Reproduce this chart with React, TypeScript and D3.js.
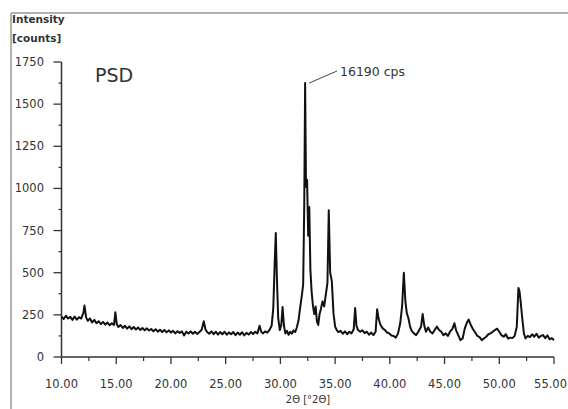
import React from "react";
import * as d3 from "d3";

// diffraction pattern (2-theta in degrees, counts)
const twoTheta = [
  10.0, 10.2, 10.4, 10.6, 10.8, 11.0, 11.2, 11.4, 11.6, 11.8,
  12.0, 12.1, 12.25, 12.4, 12.6, 12.8, 13.0, 13.2, 13.4, 13.6,
  13.8, 14.0, 14.2, 14.4, 14.6, 14.8, 14.92, 15.05, 15.2, 15.4,
  15.6, 15.8, 16.0, 16.2, 16.4, 16.6, 16.8, 17.0, 17.2, 17.4,
  17.6, 17.8, 18.0, 18.2, 18.4, 18.6, 18.8, 19.0, 19.2, 19.4,
  19.6, 19.8, 20.0, 20.2, 20.4, 20.6, 20.8, 21.0, 21.2, 21.4,
  21.6, 21.8, 22.0, 22.2, 22.4, 22.6, 22.8, 23.0, 23.15, 23.3,
  23.5, 23.7, 23.9, 24.1, 24.3, 24.5, 24.7, 24.9, 25.1, 25.3,
  25.5, 25.7, 25.9, 26.1, 26.3, 26.5, 26.7, 26.9, 27.1, 27.3,
  27.5, 27.7, 27.9, 28.1, 28.25, 28.4, 28.6, 28.8, 29.0, 29.2,
  29.35, 29.48, 29.58, 29.68, 29.8, 29.95, 30.08, 30.2, 30.32, 30.45,
  30.6, 30.75, 30.9, 31.05, 31.2, 31.35, 31.5, 31.65, 31.8, 31.95,
  32.08, 32.18, 32.26, 32.34, 32.44, 32.54, 32.64, 32.74, 32.85, 32.98,
  33.1, 33.22, 33.34, 33.46, 33.58, 33.7, 33.85, 34.0, 34.15, 34.3,
  34.42, 34.55, 34.7, 34.85, 35.0, 35.15, 35.3, 35.5, 35.7, 35.9,
  36.1, 36.3, 36.5, 36.7, 36.83, 36.95, 37.1, 37.3, 37.5, 37.7,
  37.9, 38.1, 38.3, 38.5, 38.7, 38.84, 38.98, 39.15, 39.35, 39.55,
  39.75, 39.95, 40.15, 40.35, 40.55, 40.75, 40.95, 41.12, 41.28, 41.42,
  41.55, 41.7, 41.85, 42.0, 42.2, 42.4, 42.6, 42.85, 43.0, 43.15,
  43.3, 43.5, 43.7, 43.9, 44.1, 44.3, 44.5, 44.7, 44.9, 45.1,
  45.3, 45.5, 45.7, 45.9, 46.05, 46.25, 46.45, 46.65, 46.85, 47.05,
  47.2, 47.4, 47.6, 47.8, 48.0, 48.2, 48.4, 48.6, 48.8, 49.0,
  49.2, 49.4, 49.6, 49.8, 50.0, 50.2, 50.4, 50.6, 50.8, 51.0,
  51.2, 51.4, 51.6, 51.75, 51.85, 51.95, 52.1, 52.25, 52.4, 52.6,
  52.8, 53.0, 53.2, 53.4, 53.6, 53.8, 54.0, 54.2, 54.4, 54.6,
  54.8, 55.0,
];

const counts = [
  240, 225, 245, 228, 238, 220, 240, 222, 236, 228,
  262, 305, 235, 215, 228, 205, 220, 200, 212, 195,
  208, 192, 205, 188, 200, 190, 265, 195, 178, 190,
  172, 185, 168, 182, 165, 178, 163, 175, 160, 172,
  158, 170, 157, 166, 152, 165, 150, 162, 148, 160,
  146, 158, 145, 155, 140, 153, 143, 152, 128, 150,
  140, 152, 138, 150, 137, 148, 160, 212, 165, 148,
  138, 152, 135, 150, 133, 148, 135, 150, 132, 146,
  135, 148, 130, 145, 132, 147, 128, 143, 133, 148,
  136, 150, 140, 185, 150, 140, 152, 145, 160, 185,
  290, 560, 735, 470, 230, 160, 190, 296, 190, 140,
  155, 132, 150, 138, 158, 148, 175, 215, 290, 360,
  430, 900, 1625, 1010, 1050, 720, 890, 520, 390, 300,
  255, 300, 210, 190, 255, 285, 330, 300, 370, 440,
  870, 500, 450, 260, 180, 160, 148, 155, 138, 152,
  135, 150, 140, 165, 290, 185, 160, 150, 158, 142,
  150, 132, 145, 130, 150, 283, 225, 190, 170, 160,
  145, 140, 128, 125, 115, 140, 200, 300, 500, 330,
  260, 230, 180, 155, 140, 130, 150, 180, 255, 185,
  150, 175, 150, 140, 160, 180, 160, 150, 130, 140,
  125, 150, 165, 200, 160, 130, 100, 110, 170, 205,
  222, 190, 165, 145, 125, 118, 100, 110, 120, 135,
  140, 150, 160, 168, 150, 130, 120, 135, 110, 115,
  112, 125, 180, 410, 390, 330, 230, 140, 110, 125,
  118, 135, 120, 138, 115, 125, 130, 112, 128, 105,
  112, 100,
];

const xTicks = [10, 15, 20, 25, 30, 35, 40, 45, 50, 55];
const yTicks = [0, 250, 500, 750, 1000, 1250, 1500, 1750];

const peakLabel = "16190 cps";
const peakAt = 32.26;
const sample = "PSD";

const W = 568;
const H = 409;
const font = "'DejaVu Sans', Verdana, sans-serif";

export default function App() {
  const x = d3.scaleLinear().domain([10, 55]).range([61.5, 554]);
  const y = d3.scaleLinear().domain([0, 1750]).range([357, 62]);

  const pts = twoTheta.map((t, i) => [t, counts[i]] as [number, number]);
  const line = d3
    .line<[number, number]>()
    .x((d) => x(d[0]))
    .y((d) => y(d[1]));

  const xMinor = d3.range(12.5, 55, 5);
  const yMinor = d3.range(125, 1750, 250);
  const peakY = y(counts[twoTheta.indexOf(peakAt)]);

  return (
    <svg
      width={W}
      height={H}
      style={{ position: "absolute", left: 0, top: 0, background: "#fff" }}
    >
      {/* frame */}
      <line x1={11} y1={13} x2={W} y2={13} stroke="#999" strokeWidth={1.5} />
      <line x1={11} y1={13} x2={11} y2={H} stroke="#999" strokeWidth={1.5} />

      <text x={12} y={23} fontFamily={font} fontSize={10.5} fontWeight="bold" fill="#333">
        Intensity
      </text>
      <text x={12} y={42} fontFamily={font} fontSize={10.5} fontWeight="bold" fill="#333">
        [counts]
      </text>

      {/* y axis */}
      <line x1={x(10)} y1={y(1750)} x2={x(10)} y2={y(0)} stroke="#333" strokeWidth={1.5} />
      {yTicks.map((v) => (
        <g key={v}>
          <line x1={x(10) - 8} x2={x(10)} y1={y(v)} y2={y(v)} stroke="#333" strokeWidth={1.3} />
          <text
            x={44}
            y={y(v) + 4}
            textAnchor="end"
            fontFamily={font}
            fontSize={11.5}
            fill="#333"
          >
            {v}
          </text>
        </g>
      ))}
      {yMinor.map((v) => (
        <line key={v} x1={x(10) - 3} x2={x(10)} y1={y(v)} y2={y(v)} stroke="#333" strokeWidth={1.2} />
      ))}

      {/* x axis */}
      <line x1={x(10)} y1={y(0)} x2={x(55)} y2={y(0)} stroke="#333" strokeWidth={1.5} />
      {xTicks.map((v, i) => {
        const last = i === xTicks.length - 1;
        return (
          <g key={v}>
            <line x1={x(v)} x2={x(v)} y1={y(0)} y2={y(0) + 7} stroke="#333" strokeWidth={1.3} />
            <text
              x={last ? W - 1 : x(v)}
              y={388}
              textAnchor={last ? "end" : "middle"}
              fontFamily={font}
              fontSize={11.5}
              fill="#333"
            >
              {v.toFixed(2)}
            </text>
          </g>
        );
      })}
      {xMinor.map((v) => (
        <line key={v} x1={x(v)} x2={x(v)} y1={y(0)} y2={y(0) + 4} stroke="#333" strokeWidth={1.2} />
      ))}
      <text x={308} y={403} textAnchor="middle" fontFamily={font} fontSize={10} fill="#333">
        2Θ [°2Θ]
      </text>

      {/* pattern */}
      <path d={line(pts) ?? ""} fill="none" stroke="#111" strokeWidth={2} strokeLinejoin="round" />

      <text x={95} y={82} fontFamily={font} fontSize={19} fill="#333">
        {sample}
      </text>

      {/* peak annotation */}
      <line x1={x(peakAt) + 4} y1={peakY} x2={337} y2={71} stroke="#444" strokeWidth={1} />
      <text x={340} y={75.5} fontFamily={font} fontSize={12.5} fill="#333">
        {peakLabel}
      </text>
    </svg>
  );
}
